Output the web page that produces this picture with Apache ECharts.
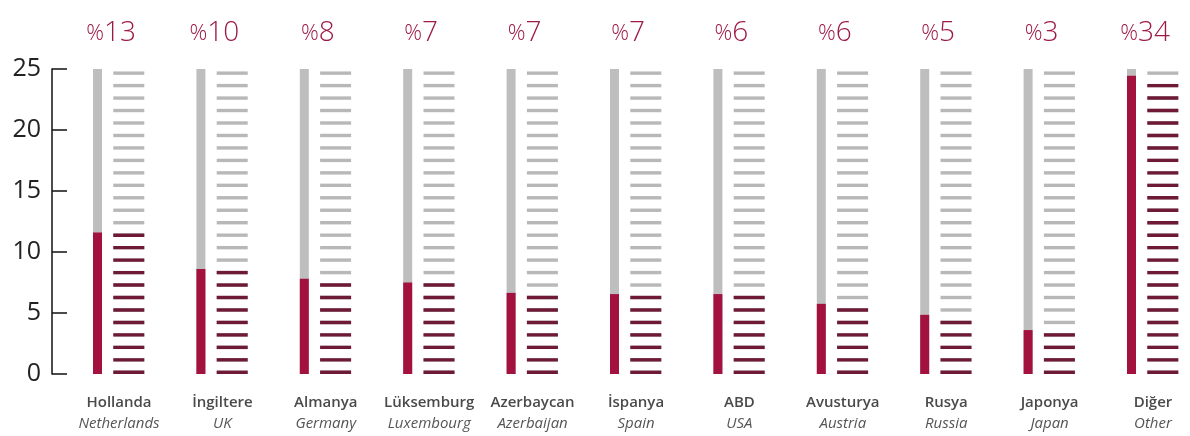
<!DOCTYPE html>
<html>
<head>
<meta charset="utf-8">
<script src="https://cdn.jsdelivr.net/npm/echarts@6/dist/echarts.min.js"></script>
<style>
  html, body { margin: 0; padding: 0; background: #fff; }
  #chart { width: 1190px; height: 436px; }
</style>
</head>
<body>
<div id="chart"></div>
<script>
// country names (Turkish / English)
var categories = ["Hollanda", "İngiltere", "Almanya", "Lüksemburg", "Azerbaycan", "İspanya", "ABD", "Avusturya", "Rusya", "Japonya", "Diğer"];
var categoriesEn = ["Netherlands", "UK", "Germany", "Luxembourg", "Azerbaijan", "Spain", "USA", "Austria", "Russia", "Japan", "Other"];
// percentage labels on top
var shares = [13, 10, 8, 7, 7, 7, 6, 6, 5, 3, 34];
// bar heights
var values = [11.6, 8.6, 7.8, 7.5, 6.65, 6.55, 6.55, 5.75, 4.85, 3.6, 24.45];
var scaleMax = 25;
var tickStep = 5;
var dashCount = 25;

var full = categories.map(function () { return scaleMax; });

var chart = echarts.init(document.getElementById("chart")),
    option = {
        animation: false,
        textStyle: { fontFamily: "Open Sans" },
        grid: { left: 119, right: 37, top: 69, bottom: 62 },
        xAxis: {
            type: "category",
            boundaryGap: false,
            data: categories,
            axisLine: { show: false },
            axisTick: { show: false },
            axisLabel: {
                interval: 0,
                hideOverlap: false,
                margin: 18,
                formatter: function (v, i) {
                    return "{a|" + v + "}\n{b|" + categoriesEn[i] + "}";
                },
                rich: {
                    a: { fontFamily: "Open Sans", fontWeight: 600, fontSize: 15, color: "#4a4a4a", lineHeight: 21 },
                    b: { fontFamily: "Open Sans", fontStyle: "italic", fontSize: 15, color: "#555", lineHeight: 21 }
                }
            }
        },
        yAxis: {
            type: "value",
            min: 0,
            max: scaleMax,
            interval: tickStep,
            offset: 67,
            splitLine: { show: false },
            axisLine: { show: true, lineStyle: { color: "#111", width: 1.5 } },
            axisTick: { show: true, inside: true, length: 15, lineStyle: { color: "#111", width: 1.5 } },
            axisLabel: { fontSize: 25, color: "#222", margin: 11, fontFamily: "Open Sans" }
        },
        series: [{
            name: "scale",
            type: "pictorialBar",
            symbol: "rect",
            symbolSize: [9, "100%"],
            symbolOffset: [-21.5, 0],
            itemStyle: { color: "#bebebe" },
            label: {
                show: true,
                position: "top",
                distance: 22,
                offset: [-8, 0],
                formatter: function (p) {
                    return "{p|%}{n|" + shares[p.dataIndex] + "}";
                },
                rich: {
                    p: { fontSize: 22, color: "#9d1a45", verticalAlign: "bottom", padding: [0, 0, 2, 0], fontFamily: "Open Sans", fontWeight: 300 },
                    n: { fontSize: 28, color: "#9d1a45", verticalAlign: "bottom", fontFamily: "Open Sans", fontWeight: 300 }
                }
            },
            z: 2,
            data: full
        }, {
            name: "value",
            type: "pictorialBar",
            symbol: "rect",
            symbolSize: [9, "100%"],
            symbolOffset: [-21.5, 0],
            itemStyle: { color: "#a3113f" },
            z: 3,
            data: values
        }, {
            name: "dashes",
            type: "pictorialBar",
            symbol: "rect",
            symbolSize: [31, 3.4],
            symbolRepeat: dashCount,
            symbolBoundingData: 24.8,
            symbolOffset: [9.8, 0],
            itemStyle: { color: "#b8b8b8" },
            z: 2,
            data: full
        }, {
            name: "dashesValue",
            type: "pictorialBar",
            symbol: "rect",
            symbolSize: [31, 3.4],
            symbolRepeat: dashCount,
            symbolBoundingData: 24.8,
            symbolClip: true,
            symbolOffset: [9.8, 0],
            itemStyle: { color: "#6e1a36" },
            z: 3,
            data: values
        }]
    };
chart.setOption(option);
window.addEventListener("resize", chart.resize);
</script>
</body>
</html>
